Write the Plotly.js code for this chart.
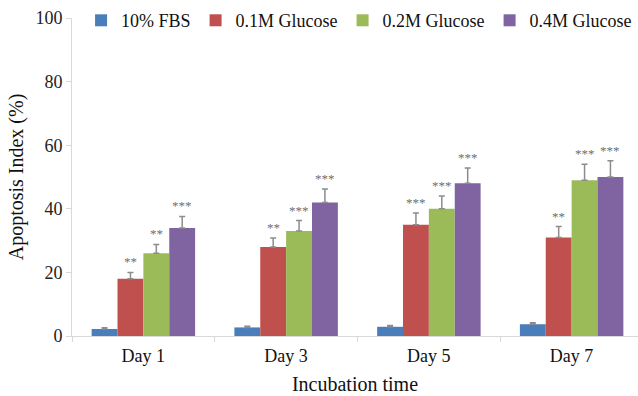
<!DOCTYPE html>
<html>
<head>
<meta charset="utf-8">
<script src="https://cdn.plot.ly/plotly-3.0.1.min.js"></script>
<style>html,body{margin:0;padding:0;background:#fff;}#chart{width:638px;height:396px;}</style>
</head>
<body>
<div id="chart"></div>
<script>
const days = ['Day 1', 'Day 3', 'Day 5', 'Day 7'];
const seriesNames = ['10% FBS', '0.1M Glucose', '0.2M Glucose', '0.4M Glucose'];
const fbs = [2.2, 2.7, 2.9, 3.7];
const fbsErr = [0.4, 0.4, 0.4, 0.5];
const glu01 = [18, 28, 35, 31];
const glu01Err = [2.0, 2.8, 3.7, 3.4];
const glu02 = [26, 33, 40, 49];
const glu02Err = [2.8, 3.3, 4.0, 5.0];
const glu04 = [34, 42, 48, 50];
const glu04Err = [3.6, 4.2, 4.8, 5.1];
const sig01 = ['**', '**', '***', '**'];
const sig02 = ['**', '***', '***', '***'];
const sig04 = ['***', '***', '***', '***'];

const colors = ['#4A7EBB', '#C0504D', '#9BBB59', '#8064A2'];
const values = [fbs, glu01, glu02, glu04];
const errs = [fbsErr, glu01Err, glu02Err, glu04Err];
const sigs = [null, sig01, sig02, sig04];

const FONT = '"Liberation Serif", "Times New Roman", Times, serif';
const W = 638, H = 396;
const margin = {l: 72, r: 0, t: 18, b: 60};
const xRange = [-0.5, 3.465];
const bargap = 0.275;

const traces = values.map((v, i) => ({
  type: 'bar',
  name: seriesNames[i],
  x: days,
  y: v,
  marker: {color: colors[i]},
  error_y: {type: 'data', symmetric: false, array: errs[i], arrayminus: v.map(() => 0),
            color: '#8c8c8c', thickness: 1.5, width: 3}
}));

const plotW = W - margin.l - margin.r;
const catW = plotW / (xRange[1] - xRange[0]);
const barW = catW * (1 - bargap) / 4;
const annotations = [];
sigs.forEach((s, i) => {
  if (!s) return;
  s.forEach((txt, j) => {
    annotations.push({
      x: days[j], y: values[i][j] + errs[i][j], xref: 'x', yref: 'y',
      text: txt, showarrow: false, yanchor: 'bottom',
      xshift: (i - 1.5) * barW, yshift: 1,
      font: {family: FONT, size: 13, color: '#6e6e6e'}
    });
  });
});

const layout = {
  width: W, height: H,
  margin: margin,
  paper_bgcolor: '#fff', plot_bgcolor: '#fff',
  font: {family: FONT, size: 18, color: '#222'},
  barmode: 'group', bargap: bargap, bargroupgap: 0,
  showlegend: true,
  legend: {orientation: 'h', x: 0.016, xanchor: 'left', y: 1.05, yanchor: 'top',
           font: {family: FONT, size: 18, color: '#111'}, bgcolor: 'rgba(0,0,0,0)'},
  xaxis: {
    type: 'category', range: xRange, showline: true, linecolor: '#d9d9d9', linewidth: 1,
    ticks: 'outside', tickson: 'boundaries', ticklen: 5, tickcolor: '#d9d9d9',
    showgrid: false, zeroline: false, automargin: false, ticklabelstandoff: 3,
    tickfont: {family: FONT, size: 18, color: '#111'},
    title: {text: 'Incubation time', font: {family: FONT, size: 20, color: '#111'}, standoff: 12}
  },
  yaxis: {
    range: [0, 100], dtick: 20, showline: true, linecolor: '#d9d9d9', linewidth: 1,
    ticks: 'outside', ticklen: 5, tickcolor: '#d9d9d9',
    showgrid: false, zeroline: false, automargin: false,
    tickfont: {family: FONT, size: 18, color: '#222'},
    title: {text: 'Apoptosis Index (%)', font: {family: FONT, size: 20, color: '#111'}, standoff: 6}
  },
  annotations: annotations
};

Plotly.newPlot('chart', traces, layout, {displayModeBar: false, staticPlot: true});
</script>
</body>
</html>
